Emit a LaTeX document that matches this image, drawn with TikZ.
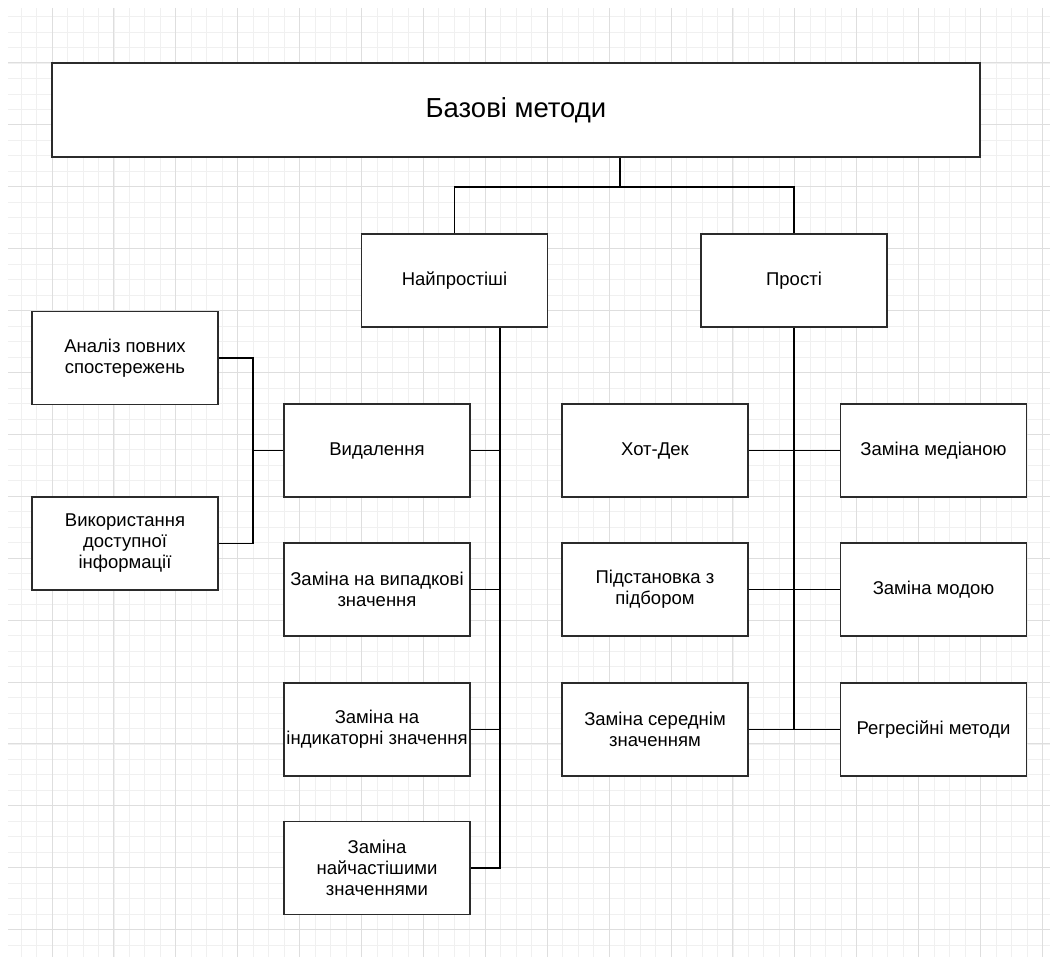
\documentclass[tikz,border=0pt]{standalone}
\usepackage{fontspec}
\setmainfont{Liberation Sans}
\usepackage{tikz}
\usepackage{xcolor}
\usetikzlibrary{positioning,calc}
\definecolor{ink}{HTML}{000000}
\definecolor{boxline}{HTML}{2B2B2B}
\definecolor{gridmajor}{HTML}{DEDEDE}
\definecolor{gridminor}{HTML}{F0F0F0}
\tikzset{
  methodbox/.style={
    draw=boxline, fill=white, line width=1.6pt,
    minimum width=186, minimum height=93, inner sep=0pt,
    align=center, font=\fontsize{18.5}{21}\selectfont
  },
  titlebox/.style={
    methodbox, minimum width=928, minimum height=94,
    font=\fontsize{27.5}{32}\selectfont
  },
  link/.style={draw=ink, line width=1.6pt},
  minorline/.style={draw=gridminor, line width=0.8pt},
  majorline/.style={draw=gridmajor, line width=1pt}
}

\begin{document}
\begin{tikzpicture}[x=1pt,y=-1pt]
  \useasboundingbox (0,0) rectangle (1050,957);
  % background grid
  \begin{scope}
    \clip (8,8) rectangle (1050,957);
    \foreach \k in {0,...,69} {
      \draw[minorline] ({-9.9+\k*15.475},8) -- ({-9.9+\k*15.475},957);
    }
    \foreach \k in {0,...,62} {
      \draw[minorline] (8,{1.1+\k*15.475}) -- (1050,{1.1+\k*15.475});
    }
    \foreach \k in {0,...,17} {
      \draw[majorline] ({-9.9+\k*61.9},8) -- ({-9.9+\k*61.9},957);
    }
    \foreach \k in {0,...,15} {
      \draw[majorline] (8,{1.1+\k*61.9}) -- (1050,{1.1+\k*61.9});
    }
  \end{scope}

  \node[titlebox] (base) at (516,110) {Базові методи};
  \node[methodbox] (simplest) at (454.5,280.5) {Найпростіші};
  \node[methodbox] (simple) at (794,280.5) {Прості};

  \node[methodbox] (fullobs) at (125,358) {Аналіз повних\\спостережень};
  \node[methodbox] (avail) at (125,543.5) {Використання\\доступної\\інформації};

  \node[methodbox] (delete) at (377,450.5) {Видалення};
  \node[methodbox] (randval) at (377,589.5) {Заміна на випадкові\\значення};
  \node[methodbox] (indval) at (377,729.5) {Заміна на\\індикаторні значення};
  \node[methodbox] (freqval) at (377,868) {Заміна\\найчастішими\\значеннями};

  \node[methodbox] (hotdeck) at (655,450.5) {Хот-Дек};
  \node[methodbox] (matchsub) at (655,589.5) {Підстановка з\\підбором};
  \node[methodbox] (meanval) at (655,729.5) {Заміна середнім\\значенням};

  \node[methodbox] (median) at (933.5,450.5) {Заміна медіаною};
  \node[methodbox] (mode) at (933.5,589.5) {Заміна модою};
  \node[methodbox] (regress) at (933.5,729.5) {Регресійні методи};

  % connectors
  \coordinate (fork) at (620,187);
  \coordinate (ljoin) at (253,450.5);
  \coordinate (trunk) at (500,0);
  \draw[link] (base.south -| fork) -- (fork);
  \draw[link] (simplest.north) |- (fork) -| (simple.north);
  \draw[link] (fullobs.east) -| (ljoin) |- (avail.east);
  \draw[link] (ljoin) -- (delete.west);
  \draw[link] (simplest.south -| trunk) |- (freqval.east);
  \foreach \n in {delete,randval,indval}
    \draw[link] (\n.east) -- (\n.east -| trunk);
  \draw[link] (simple.south) -- (simple.south |- meanval.east);
  \foreach \a/\b in {hotdeck/median,matchsub/mode,meanval/regress}
    \draw[link] (\a.east) -- (\b.west);
\end{tikzpicture}
\end{document}
